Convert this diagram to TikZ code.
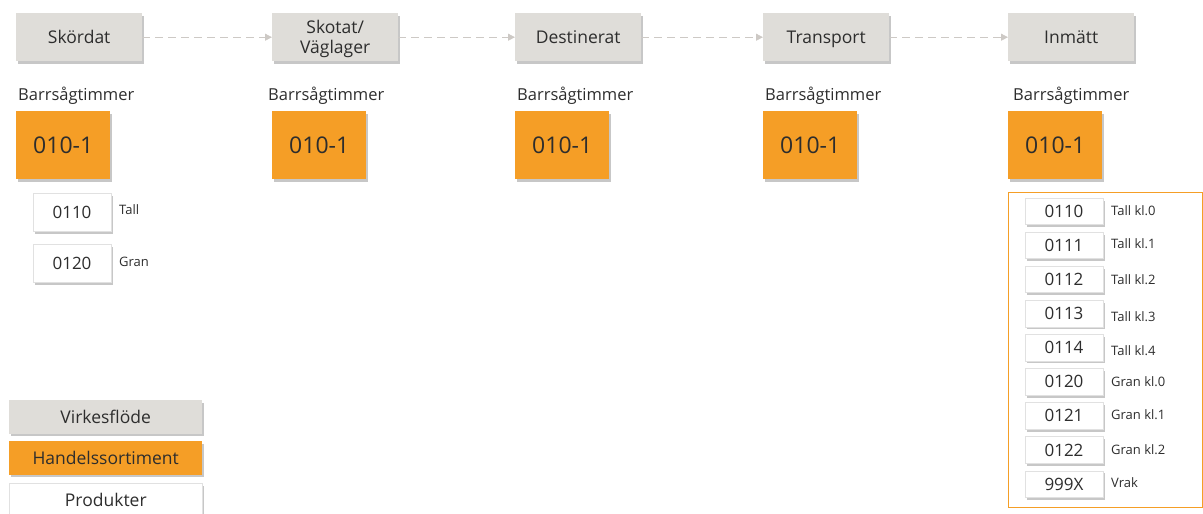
\documentclass[tikz,border=0pt]{standalone}
\usepackage{fontspec}
\setmainfont{Open Sans}
\usetikzlibrary{shadows,arrows.meta}
\definecolor{flowgray}{RGB}{223,221,217}
\definecolor{tradeorange}{RGB}{245,158,38}
\definecolor{inkgray}{RGB}{45,45,45}
\definecolor{dashgray}{RGB}{205,201,197}
\definecolor{rimgray}{RGB}{225,225,225}
\tikzstyle{every node}=[text=inkgray, inner sep=0pt, text depth=0pt]
\tikzstyle{boxshade}=[drop shadow={shadow xshift=2pt, shadow yshift=-2.5pt, fill=black, opacity=0.22}]
\tikzstyle{flowbox}=[boxshade, fill=flowgray, anchor=north west, minimum width=126pt, minimum height=48pt, align=center, text height=12.5pt, font=\fontsize{17.5}{19}\selectfont]
\tikzstyle{tradebox}=[boxshade, fill=tradeorange, anchor=north west, minimum width=94pt, minimum height=68pt, text height=16.4pt, font=\fontsize{23}{25}\selectfont]
\tikzstyle{prodbox}=[boxshade, fill=white, draw=rimgray, line width=0.6pt, minimum width=78pt, text height=12.1pt, font=\fontsize{17}{19}\selectfont]
\tikzstyle{sortname}=[anchor=west, text height=11.8pt, font=\fontsize{16.5}{18}\selectfont]
\tikzstyle{prodname}=[anchor=west, text height=9.3pt, font=\fontsize{13}{15}\selectfont]
\tikzstyle{keybox}=[boxshade, anchor=north west, minimum width=193pt, minimum height=33.5pt, text height=12.5pt, font=\fontsize{17.5}{19}\selectfont]
\tikzstyle{flowarrow}=[draw=dashgray, line width=0.8pt, dash pattern=on 8pt off 5pt, -{Triangle[length=7pt,width=7pt,fill=dashgray]}]

\begin{document}
\begin{tikzpicture}[x=1pt, y=-1pt]
            \useasboundingbox (0, 0) rectangle (1203, 514);

            \node[flowbox] (skordat) at (16, 13) {Sk\"ordat};
            \node[flowbox, text height={}, text depth={}, font=\fontsize{17.5}{20.5}\selectfont] (skotat) at (272, 13) {\rule{0pt}{17.3pt}Skotat/\\V\"aglager};
            \node[flowbox] (destinerat) at (515, 13) {Destinerat};
            \node[flowbox] (transport) at (763, 13) {Transport};
            \node[flowbox] (inmatt) at (1008, 13) {Inm\"att};
            \draw[flowarrow] (skordat) -- (skotat);
            \draw[flowarrow] (skotat) -- (destinerat);
            \draw[flowarrow] (destinerat) -- (transport);
            \draw[flowarrow] (transport) -- (inmatt);

            \node[sortname] (sortA) at (18, 94.5) {Barrs\aa gtimmer};
            \node[sortname] (sortB) at (268, 94.5) {Barrs\aa gtimmer};
            \node[sortname] (sortC) at (517, 94.5) {Barrs\aa gtimmer};
            \node[sortname] (sortD) at (765, 94.5) {Barrs\aa gtimmer};
            \node[sortname] (sortE) at (1013, 94.5) {Barrs\aa gtimmer};

            \node[tradebox] (tradeA) at (16, 111) {010-1};
            \node[tradebox] (tradeB) at (272, 111) {010-1};
            \node[tradebox] (tradeC) at (515, 111) {010-1};
            \node[tradebox] (tradeD) at (763, 111) {010-1};
            \node[tradebox] (tradeE) at (1008, 111) {010-1};

            \node[prodbox, minimum height=38pt] (tall) at (72, 212) {0110};
            \node[prodname] (talltext) at (119, 210) {Tall};
            \node[prodbox, minimum height=38pt] (gran) at (72, 263) {0120};
            \node[prodname] (grantext) at (119, 262) {Gran};

            \draw[tradeorange, line width=0.8pt] (1008, 192) rectangle (1202, 507);
            \foreach \code/\name/\ty [count=\i] in {0110/Tall kl.0/210.8, 0111/Tall kl.1/244.2, 0112/Tall kl.2/280.2, 0113/Tall kl.3/317, 0114/Tall kl.4/350.5, 0120/Gran kl.0/382.2, 0121/Gran kl.1/414.7, 0122/Gran kl.2/450, 999X/Vrak/483}
            {
                \node[prodbox, minimum height=26.5pt] (meas\i) at (1064, 177.2+34.1*\i) {\code};
                \node[prodname] (meastext\i) at (1111, \ty) {\name};
            }

            \node[keybox, fill=flowgray] (keyflow) at (9, 400) {Virkesfl\"ode};
            \node[keybox, fill=tradeorange] (keytrade) at (9, 441) {Handelssortiment};
            \node[keybox, fill=white, draw=rimgray, line width=0.6pt] (keyprod) at (9, 483) {Produkter};
        \end{tikzpicture}
\end{document}
